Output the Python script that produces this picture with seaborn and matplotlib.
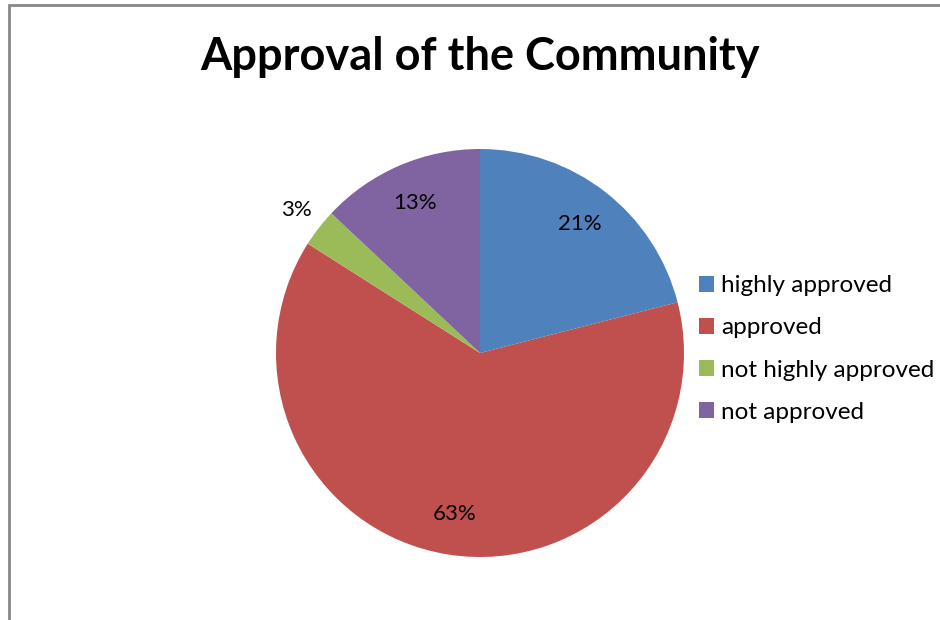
import matplotlib
matplotlib.use("Agg")
import matplotlib.pyplot as plt
from matplotlib.patches import Rectangle
import seaborn as sns
import numpy as np

categories = ["highly approved", "approved", "not highly approved", "not approved"]
values = [21, 63, 3, 13]
colors = ["#4F81BD", "#C0504D", "#9BBB59", "#8064A2"]
title = "Approval of the Community"

sns.set_theme(style="white")
plt.rcParams["font.family"] = ["Lato", "DejaVu Sans"]
plt.rcParams["text.color"] = "black"

W, H = 940, 620
fig = plt.figure(figsize=(W / 100, H / 100), dpi=100)
fig.patch.set_facecolor("white")

cx, cy, r = 480, 353, 204
ax = fig.add_axes([(cx - r) / W, (H - cy - r) / H, 2 * r / W, 2 * r / H])

wedges, texts, autotexts = ax.pie(
    values, colors=colors, startangle=90, counterclock=False,
    autopct=lambda p: f"{p:.0f}%", pctdistance=0.8, radius=1,
    wedgeprops=dict(linewidth=0),
    textprops=dict(fontsize=16, color="black"),
)
ax.set_xlim(-1, 1)
ax.set_ylim(-1, 1)
ax.set_aspect("equal")
ax.axis("off")

# small slice label placed outside
for w, t, v in zip(wedges, autotexts, values):
    if v < 5:
        ang = np.deg2rad((w.theta1 + w.theta2) / 2)
        t.set_position((1.14 * np.cos(ang), 1.14 * np.sin(ang)))

fig.text(cx / W, 1 - 57 / H, title, ha="center", va="center",
         fontsize=32.5, fontweight="bold", color="black")

leg = ax.legend(wedges, categories, loc="center left",
                bbox_to_anchor=(699 / W, 1 - 349 / H), bbox_transform=fig.transFigure,
                frameon=False, fontsize=17.5, handlelength=0.62, handleheight=0.62,
                handletextpad=0.3, labelspacing=0.87, borderpad=0, borderaxespad=0)
for t in leg.get_texts():
    t.set_color("black")

# chart border (left and top lines)
fig.add_artist(Rectangle((8.5 / W, -0.1), 2, 1.1 - 5.5 / H,
                         transform=fig.transFigure, fill=False,
                         edgecolor="#888888", lw=2, clip_on=False))

fig.savefig("out.png", dpi=100, facecolor="white")
